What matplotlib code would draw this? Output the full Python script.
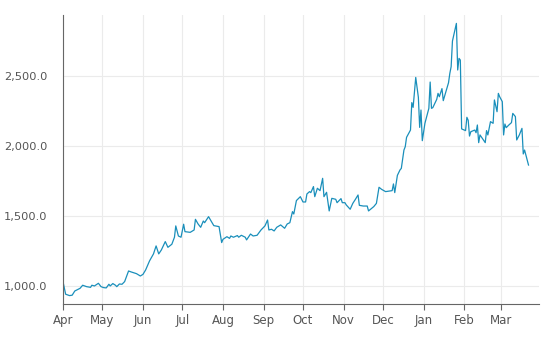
import matplotlib
matplotlib.use("Agg")
import matplotlib.pyplot as plt
import matplotlib.dates as mdates
from matplotlib.ticker import FuncFormatter
import pandas as pd

dates = [
    "2020-04-01", "2020-04-03", "2020-04-06", "2020-04-08", "2020-04-10", "2020-04-14",
    "2020-04-16", "2020-04-19", "2020-04-22", "2020-04-23", "2020-04-25", "2020-04-28",
    "2020-04-30", "2020-05-02", "2020-05-04", "2020-05-06", "2020-05-07", "2020-05-09",
    "2020-05-11", "2020-05-12", "2020-05-14", "2020-05-16", "2020-05-18", "2020-05-21",
    "2020-05-23", "2020-05-27", "2020-05-30", "2020-06-01", "2020-06-03", "2020-06-06",
    "2020-06-09", "2020-06-11", "2020-06-13", "2020-06-15", "2020-06-18", "2020-06-20",
    "2020-06-23", "2020-06-25", "2020-06-26", "2020-06-28", "2020-06-30", "2020-07-02",
    "2020-07-03", "2020-07-07", "2020-07-10", "2020-07-11", "2020-07-13", "2020-07-15",
    "2020-07-17", "2020-07-18", "2020-07-21", "2020-07-25", "2020-07-29", "2020-07-31",
    "2020-08-01", "2020-08-04", "2020-08-06", "2020-08-07", "2020-08-09", "2020-08-12",
    "2020-08-13", "2020-08-15", "2020-08-18", "2020-08-19", "2020-08-22", "2020-08-24",
    "2020-08-27", "2020-08-30", "2020-09-02", "2020-09-04", "2020-09-05", "2020-09-07",
    "2020-09-09", "2020-09-11", "2020-09-14", "2020-09-17", "2020-09-19", "2020-09-21",
    "2020-09-23", "2020-09-24", "2020-09-26", "2020-09-29", "2020-10-01", "2020-10-03",
    "2020-10-04", "2020-10-06", "2020-10-07", "2020-10-09", "2020-10-10", "2020-10-12",
    "2020-10-14", "2020-10-16", "2020-10-17", "2020-10-19", "2020-10-21", "2020-10-23",
    "2020-10-26", "2020-10-27", "2020-10-30", "2020-10-31", "2020-11-02", "2020-11-03",
    "2020-11-06", "2020-11-08", "2020-11-10", "2020-11-12", "2020-11-13", "2020-11-16",
    "2020-11-19", "2020-11-20", "2020-11-24", "2020-11-26", "2020-11-28", "2020-11-30",
    "2020-12-03", "2020-12-08", "2020-12-09", "2020-12-10", "2020-12-12", "2020-12-14",
    "2020-12-15", "2020-12-17", "2020-12-18", "2020-12-19", "2020-12-22", "2020-12-23",
    "2020-12-24", "2020-12-26", "2020-12-28", "2020-12-29", "2020-12-30", "2020-12-31",
    "2021-01-02", "2021-01-05", "2021-01-06", "2021-01-07", "2021-01-08", "2021-01-11",
    "2021-01-12", "2021-01-13", "2021-01-15", "2021-01-16", "2021-01-18", "2021-01-20",
    "2021-01-21", "2021-01-22", "2021-01-23", "2021-01-26", "2021-01-27", "2021-01-28",
    "2021-01-29", "2021-01-30", "2021-02-02", "2021-02-03", "2021-02-04", "2021-02-05",
    "2021-02-06", "2021-02-09", "2021-02-10", "2021-02-11", "2021-02-12", "2021-02-13",
    "2021-02-17", "2021-02-18", "2021-02-19", "2021-02-21", "2021-02-23", "2021-02-24",
    "2021-02-26", "2021-02-27", "2021-02-28", "2021-03-02", "2021-03-03", "2021-03-04",
    "2021-03-05", "2021-03-07", "2021-03-09", "2021-03-10", "2021-03-12", "2021-03-13",
    "2021-03-15", "2021-03-17", "2021-03-18", "2021-03-19", "2021-03-22",
]

values = [
    1031, 941, 931, 934, 964, 983,
    1005, 995, 990, 1005, 1000, 1019,
    995, 988, 986, 1012, 1000, 1017,
    1005, 995, 1014, 1012, 1031, 1107,
    1100, 1088, 1071, 1083, 1114, 1179,
    1229, 1286, 1229, 1257, 1317, 1276,
    1298, 1348, 1429, 1357, 1348, 1441,
    1388, 1383, 1400, 1476, 1443, 1419,
    1464, 1452, 1495, 1431, 1424, 1310,
    1333, 1352, 1340, 1357, 1348, 1360,
    1348, 1362, 1348, 1329, 1371, 1357,
    1362, 1400, 1429, 1471, 1400, 1405,
    1393, 1419, 1436, 1412, 1443, 1452,
    1531, 1514, 1610, 1638, 1600, 1600,
    1657, 1674, 1667, 1710, 1638, 1698,
    1681, 1769, 1638, 1669, 1536, 1626,
    1619, 1595, 1624, 1595, 1595, 1579,
    1548, 1590, 1619, 1650, 1576, 1571,
    1571, 1536, 1567, 1590, 1705, 1690,
    1674, 1681, 1729, 1667, 1790, 1829,
    1840, 1971, 1995, 2062, 2114, 2310,
    2276, 2490, 2348, 2133, 2257, 2038,
    2162, 2269, 2457, 2269, 2274, 2333,
    2376, 2352, 2410, 2324, 2388, 2452,
    2519, 2567, 2750, 2876, 2543, 2626,
    2614, 2122, 2110, 2205, 2184, 2071,
    2102, 2114, 2095, 2150, 2024, 2079,
    2024, 2110, 2079, 2174, 2162, 2329,
    2245, 2376, 2352, 2317, 2079, 2157,
    2131, 2150, 2167, 2233, 2210, 2043,
    2079, 2126, 1943, 1971, 1864,
]

y_ticks = [1000, 1500, 2000, 2500]

df = pd.DataFrame({"date": pd.to_datetime(dates), "value": values})

fig = plt.figure(figsize=(5.49, 3.39), dpi=100)
ax = fig.add_axes([63 / 549, 1 - 304 / 339, 476 / 549, 289 / 339])

ax.plot(df["date"], df["value"], color="#1a8fbb", linewidth=0.9)

ax.set_xlim(pd.Timestamp("2020-04-01"), pd.Timestamp("2021-03-30"))
ax.set_ylim(871, 2936)

ax.xaxis.set_major_locator(mdates.MonthLocator())
ax.xaxis.set_major_formatter(mdates.DateFormatter("%b"))
ax.set_yticks(y_ticks)
ax.yaxis.set_major_formatter(FuncFormatter(lambda v, p: f"{v:,.1f}"))

ax.grid(True, color="#ebebeb", linewidth=0.8)
ax.set_axisbelow(True)

for side in ["top", "right"]:
    ax.spines[side].set_visible(False)
for side in ["left", "bottom"]:
    ax.spines[side].set_color("#666666")
    ax.spines[side].set_linewidth(0.8)

ax.tick_params(axis="x", length=4, width=0.8, color="#666666", labelsize=8.5,
               labelcolor="#555555", pad=3)
ax.tick_params(axis="y", length=0, labelsize=8.2, labelcolor="#555555", pad=11)

plt.savefig("out.png", dpi=100)
plt.close()
